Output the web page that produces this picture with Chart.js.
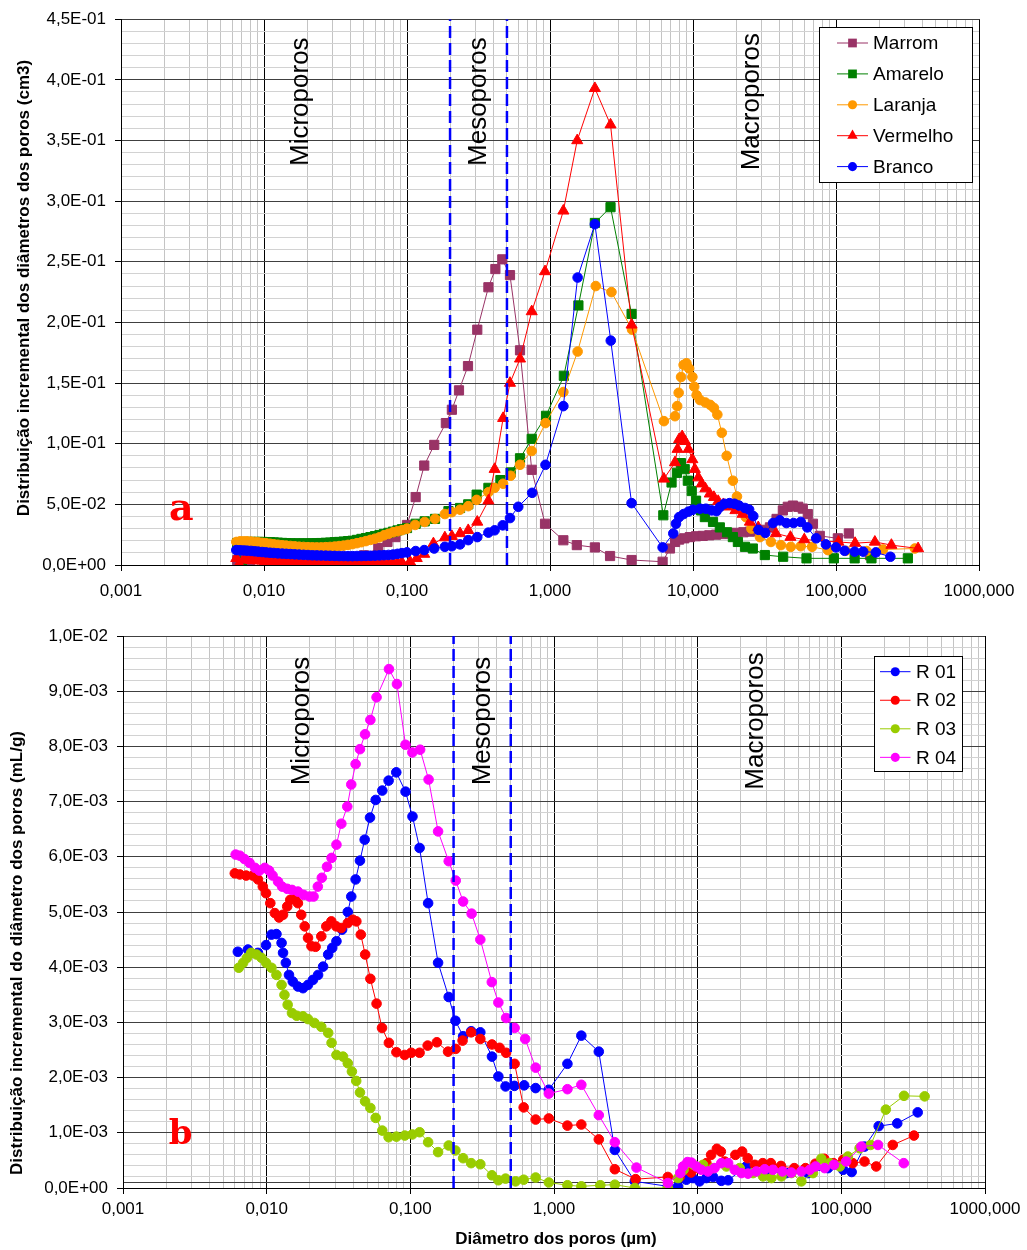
<!DOCTYPE html>
<html>
<head>
<meta charset="utf-8">
<script src="https://cdn.jsdelivr.net/npm/chart.js@4.4.1/dist/chart.umd.min.js"></script>
<style>
  body { margin: 0; background: #fff; }
  #wrap { width: 1027px; height: 1250px; }
  canvas { display: block; }
</style>
</head>
<body>
<div id="wrap">
  <canvas id="chartA" width="1027" height="612"></canvas>
  <canvas id="chartB" width="1027" height="638"></canvas>
</div>
<script>
// x axis decades (µm) and the meso-pore limits
const xDecades = [0.001, 0.01, 0.1, 1, 10, 100, 1000];
const poreLimits = [0.2, 0.5];

// chart a : [diameter µm, volume cm3]
const marrom = [[0.0065,0.004],[0.008,0.0038],[0.01,0.0035],[0.013,0.003],[0.017,0.003],[0.022,0.0032],[0.03,0.0038],[0.04,0.005],[0.05,0.008],[0.063,0.014],[0.073,0.019],[0.083,0.023],[0.1,0.033],[0.115,0.056],[0.132,0.082],[0.155,0.099],[0.187,0.117],[0.206,0.128],[0.231,0.144],[0.267,0.164],[0.31,0.194],[0.371,0.229],[0.415,0.244],[0.464,0.252],[0.525,0.239],[0.617,0.177],[0.745,0.0785],[0.923,0.034],[1.24,0.0204],[1.54,0.0164],[2.06,0.0145],[2.63,0.0074],[3.72,0.0041],[6.13,0.0027],[6.9,0.0136],[7.5,0.019],[8.0,0.021],[8.7,0.022],[9.5,0.023],[10.5,0.0237],[11.7,0.024],[13,0.0245],[14.5,0.025],[16.2,0.0255],[18,0.026],[20,0.0265],[22.5,0.027],[25,0.0275],[28,0.028],[31,0.029],[34.5,0.031],[38.4,0.038],[42.5,0.045],[46,0.048],[50,0.049],[54.5,0.048],[58.6,0.0465],[63.5,0.042],[69,0.034],[77,0.024],[103,0.022],[123,0.026],[173,0.008]];
const amarelo = [[0.007,0.001],[0.0065,0.018],[0.0068,0.0185],[0.0072,0.0188],[0.0076,0.019],[0.0081,0.019],[0.0086,0.019],[0.0091,0.019],[0.0097,0.019],[0.0103,0.0189],[0.011,0.0188],[0.0117,0.0186],[0.0125,0.0184],[0.0134,0.0182],[0.0143,0.018],[0.0153,0.0179],[0.0164,0.0178],[0.0176,0.0178],[0.0189,0.0178],[0.0203,0.0178],[0.0218,0.0179],[0.0234,0.018],[0.0251,0.0181],[0.027,0.0183],[0.029,0.0185],[0.0312,0.0188],[0.0335,0.019],[0.036,0.0193],[0.0387,0.0197],[0.0416,0.02],[0.0447,0.0207],[0.048,0.0215],[0.0516,0.0222],[0.0555,0.023],[0.0597,0.0238],[0.0642,0.0247],[0.069,0.0256],[0.0742,0.0265],[0.0798,0.0275],[0.0858,0.0285],[0.0922,0.0295],[0.1,0.0305],[0.115,0.034],[0.133,0.036],[0.157,0.038],[0.195,0.0444],[0.235,0.047],[0.268,0.05],[0.307,0.058],[0.371,0.0636],[0.45,0.07],[0.531,0.0763],[0.617,0.088],[0.745,0.104],[0.938,0.123],[1.25,0.156],[1.58,0.214],[2.06,0.282],[2.65,0.295],[3.72,0.207],[6.2,0.041],[7.08,0.068],[7.72,0.076],[8.23,0.084],[8.75,0.079],[9.2,0.0695],[9.8,0.061],[10.5,0.053],[11.4,0.045],[12.1,0.0395],[13.8,0.0355],[15.4,0.031],[17.3,0.027],[19.0,0.023],[20.6,0.019],[23.1,0.015],[26.2,0.0136],[31.8,0.0082],[42.7,0.0068],[62.2,0.0055],[96.6,0.0055],[135,0.0055],[177,0.0055],[318,0.0055]];
const laranja = [[0.0064,0.019],[0.0068,0.0195],[0.0072,0.0195],[0.0076,0.0195],[0.0081,0.0193],[0.0086,0.019],[0.0091,0.0187],[0.0097,0.0183],[0.0103,0.018],[0.011,0.0175],[0.0117,0.0171],[0.0125,0.0167],[0.0134,0.0163],[0.0143,0.016],[0.0153,0.0157],[0.0164,0.0154],[0.0176,0.0151],[0.0189,0.0149],[0.0203,0.0147],[0.0218,0.0146],[0.0234,0.0145],[0.0251,0.0145],[0.027,0.0147],[0.029,0.0149],[0.0312,0.0152],[0.0335,0.0156],[0.036,0.016],[0.0387,0.0166],[0.0416,0.0172],[0.0447,0.018],[0.048,0.0188],[0.0516,0.0197],[0.0555,0.0207],[0.0597,0.0217],[0.0642,0.0228],[0.069,0.0245],[0.0742,0.0257],[0.0798,0.027],[0.0858,0.0278],[0.0922,0.0287],[0.1,0.03],[0.114,0.033],[0.133,0.0355],[0.157,0.038],[0.184,0.042],[0.206,0.0436],[0.235,0.0456],[0.268,0.0485],[0.307,0.0537],[0.371,0.06],[0.41,0.0636],[0.47,0.067],[0.53,0.0736],[0.617,0.0826],[0.745,0.094],[0.93,0.117],[1.24,0.1426],[1.56,0.176],[2.09,0.23],[2.69,0.225],[3.75,0.194],[6.26,0.1186],[7.48,0.1227],[7.75,0.131],[7.94,0.142],[8.25,0.155],[8.6,0.165],[9.0,0.1663],[9.4,0.162],[9.9,0.155],[10.2,0.147],[10.6,0.14],[11.2,0.136],[12.2,0.134],[13.2,0.132],[14.0,0.1295],[14.8,0.124],[15.9,0.109],[17.2,0.09],[19.0,0.0695],[20.3,0.0565],[23.4,0.0395],[25.6,0.03],[29.4,0.023],[35.1,0.019],[41.2,0.0164],[48.3,0.015],[56.7,0.0155],[68,0.015],[87.7,0.0123],[117,0.0117],[164,0.0115],[213,0.0128],[356,0.0136]];
const vermelho = [[0.0064,0.0055],[0.0067,0.0008],[0.0072,0.0045],[0.0076,0.0042],[0.0081,0.004],[0.0086,0.0038],[0.0091,0.0036],[0.0097,0.0034],[0.0103,0.0032],[0.011,0.003],[0.0117,0.0028],[0.0125,0.0026],[0.0134,0.0024],[0.0143,0.0022],[0.0153,0.002],[0.0164,0.0018],[0.0176,0.0016],[0.0189,0.0015],[0.0203,0.0013],[0.0218,0.0012],[0.0234,0.0011],[0.0251,0.001],[0.027,0.001],[0.029,0.001],[0.0312,0.001],[0.0335,0.001],[0.036,0.001],[0.0387,0.0011],[0.0416,0.0011],[0.0447,0.0012],[0.048,0.0012],[0.0516,0.0013],[0.0555,0.0013],[0.0597,0.0014],[0.0642,0.0014],[0.069,0.0014],[0.0742,0.0015],[0.0798,0.0016],[0.0858,0.0018],[0.0922,0.0021],[0.105,0.0027],[0.117,0.0055],[0.132,0.009],[0.153,0.0177],[0.184,0.0226],[0.206,0.0237],[0.235,0.026],[0.268,0.0286],[0.31,0.0355],[0.371,0.053],[0.41,0.079],[0.47,0.121],[0.525,0.15],[0.617,0.17],[0.745,0.209],[0.923,0.242],[1.24,0.292],[1.55,0.35],[2.06,0.393],[2.65,0.363],[3.72,0.198],[6.26,0.071],[7.48,0.0845],[7.8,0.0955],[8.0,0.1036],[8.4,0.106],[8.8,0.102],[9.3,0.0955],[9.9,0.087],[10.3,0.079],[10.9,0.072],[11.5,0.067],[12.2,0.063],[13.1,0.0587],[14.0,0.0559],[15.0,0.0526],[16.3,0.05],[17.7,0.048],[19.8,0.045],[22.2,0.042],[25,0.0355],[28.6,0.031],[38,0.026],[48,0.023],[60,0.021],[104,0.019],[136,0.018],[187,0.019],[244,0.0164],[375,0.0136]];
const branco = [[0.0064,0.0123],[0.0068,0.0121],[0.0072,0.012],[0.0076,0.0118],[0.0081,0.0116],[0.0086,0.0113],[0.0091,0.011],[0.0097,0.0107],[0.0103,0.0104],[0.011,0.0101],[0.0117,0.0099],[0.0125,0.0096],[0.0134,0.0094],[0.0143,0.0092],[0.0153,0.009],[0.0164,0.0088],[0.0176,0.0086],[0.0189,0.0084],[0.0203,0.0082],[0.0218,0.008],[0.0234,0.0079],[0.0251,0.0078],[0.027,0.0077],[0.029,0.0076],[0.0312,0.0075],[0.0335,0.0074],[0.036,0.0074],[0.0387,0.0073],[0.0416,0.0073],[0.0447,0.0074],[0.048,0.0074],[0.0516,0.0075],[0.0555,0.0076],[0.0597,0.0077],[0.0642,0.0079],[0.069,0.0081],[0.0742,0.0083],[0.0798,0.0086],[0.0858,0.0092],[0.0922,0.0098],[0.1,0.0104],[0.115,0.0115],[0.132,0.0123],[0.155,0.0136],[0.184,0.015],[0.206,0.0155],[0.235,0.017],[0.268,0.0205],[0.31,0.023],[0.371,0.0267],[0.41,0.0286],[0.467,0.0327],[0.525,0.0387],[0.6,0.048],[0.75,0.0595],[0.93,0.0826],[1.24,0.131],[1.56,0.237],[2.06,0.281],[2.66,0.185],[3.72,0.051],[6.13,0.0145],[7.28,0.026],[7.6,0.034],[8.0,0.0395],[8.6,0.042],[9.3,0.044],[10,0.0456],[11.2,0.0464],[12.3,0.0464],[13.5,0.045],[14.6,0.0444],[15.4,0.0477],[16.6,0.0505],[18.0,0.051],[19.5,0.0505],[21.0,0.049],[23.1,0.047],[24.7,0.0456],[26.4,0.0403],[28.7,0.029],[32,0.0264],[36.3,0.0346],[40.5,0.0368],[45,0.0346],[50.5,0.0346],[56.7,0.0355],[63,0.031],[72.7,0.022],[85,0.017],[100,0.0145],[115,0.0117],[135,0.011],[155,0.011],[190,0.0104],[240,0.0068]];

// chart b : [diameter µm, volume mL/g]
const r01 = [[0.0063,0.00428],[0.0074,0.00432],[0.0087,0.00426],[0.0099,0.0044],[0.0108,0.00459],[0.0117,0.0046],[0.0127,0.00444],[0.013,0.00426],[0.0136,0.00408],[0.0143,0.00386],[0.0152,0.00374],[0.0165,0.00365],[0.0179,0.00362],[0.0194,0.00368],[0.021,0.00377],[0.0228,0.00386],[0.0247,0.00401],[0.0268,0.00423],[0.0286,0.00435],[0.0306,0.00447],[0.0335,0.00468],[0.0367,0.005],[0.0388,0.00528],[0.0416,0.00559],[0.0446,0.00593],[0.0481,0.00631],[0.0524,0.00671],[0.0574,0.00703],[0.0638,0.0072],[0.0706,0.00738],[0.0798,0.00753],[0.0926,0.00718],[0.1035,0.00673],[0.116,0.00616],[0.133,0.00516],[0.156,0.00408],[0.185,0.00346],[0.206,0.00303],[0.233,0.00275],[0.265,0.00284],[0.307,0.00282],[0.37,0.00238],[0.41,0.00202],[0.46,0.00184],[0.53,0.00185],[0.62,0.00186],[0.745,0.00181],[0.92,0.00178],[1.24,0.00225],[1.55,0.00276],[2.05,0.00247],[2.65,0.00069],[3.65,0.00012],[6.21,0.00003],[7.29,0.00003],[8.35,0.00015],[9.27,0.00018],[10.3,0.00012],[11.5,0.00018],[12.8,0.0002],[14.6,0.00013],[16.3,0.00014],[21.8,0.00039],[30.1,0.0003],[41.5,0.00027],[58.6,0.00027],[80.8,0.00036],[103,0.00033],[118,0.00029],[145,0.00075],[182,0.00112],[245,0.00117],[340,0.00137]];
const r02 = [[0.006,0.0057],[0.0065,0.00568],[0.0072,0.00566],[0.008,0.00566],[0.0087,0.00559],[0.0094,0.00546],[0.0099,0.00534],[0.0106,0.00516],[0.0114,0.00498],[0.0122,0.0049],[0.013,0.00495],[0.0139,0.0051],[0.0146,0.00522],[0.0157,0.00525],[0.0165,0.00516],[0.0174,0.00495],[0.0184,0.00474],[0.0194,0.00453],[0.0205,0.00438],[0.0219,0.00437],[0.024,0.00456],[0.026,0.00474],[0.0282,0.00483],[0.0305,0.00474],[0.033,0.00471],[0.0367,0.0048],[0.0398,0.00486],[0.0421,0.00483],[0.0452,0.00459],[0.0485,0.00423],[0.0527,0.00379],[0.0582,0.00334],[0.0635,0.0029],[0.0709,0.00263],[0.08,0.00246],[0.0914,0.00241],[0.1015,0.00245],[0.116,0.00245],[0.132,0.00258],[0.153,0.00264],[0.183,0.00247],[0.207,0.00252],[0.231,0.00267],[0.265,0.00282],[0.307,0.0027],[0.37,0.0026],[0.418,0.00254],[0.464,0.00245],[0.532,0.00225],[0.615,0.00146],[0.745,0.00124],[0.92,0.00126],[1.24,0.00113],[1.55,0.00115],[2.05,0.00088],[2.65,0.00034],[3.7,0.00016],[6.2,0.0002],[7.5,0.0002],[9.0,0.00028],[10.3,0.00035],[11.5,0.00045],[12.4,0.0006],[13.6,0.00071],[14.5,0.00066],[15.4,0.00048],[18.3,0.0006],[20.4,0.00066],[22.3,0.00054],[25,0.00042],[28.4,0.00045],[32.3,0.00045],[38,0.0004],[47,0.00036],[56.3,0.00036],[66,0.00044],[76,0.00053],[88,0.00045],[103,0.00051],[120,0.00045],[145,0.00048],[175,0.00039],[228,0.00078],[320,0.00095]];
const r03 = [[0.0064,0.00399],[0.00686,0.00408],[0.0073,0.00417],[0.0078,0.00426],[0.0085,0.00423],[0.0092,0.00417],[0.0099,0.00408],[0.0108,0.00399],[0.0117,0.00386],[0.0127,0.00368],[0.0133,0.0035],[0.014,0.00332],[0.015,0.00317],[0.0162,0.00312],[0.0179,0.00311],[0.0194,0.00306],[0.0215,0.00299],[0.024,0.00292],[0.0268,0.00281],[0.0283,0.00263],[0.0306,0.00241],[0.034,0.00238],[0.0367,0.00226],[0.0392,0.00211],[0.042,0.00194],[0.0446,0.00173],[0.0484,0.00157],[0.0527,0.00145],[0.0574,0.00127],[0.0638,0.00104],[0.0706,0.00092],[0.08,0.00093],[0.0914,0.00095],[0.1033,0.00097],[0.116,0.00101],[0.133,0.00083],[0.156,0.00065],[0.185,0.00077],[0.206,0.00068],[0.233,0.00054],[0.265,0.00045],[0.307,0.00043],[0.37,0.00023],[0.41,0.00014],[0.46,0.00017],[0.54,0.00012],[0.615,0.00015],[0.745,0.00019],[0.92,0.0001],[1.24,0.00005],[1.55,0.00003],[2.1,0.00005],[2.65,0.00006],[3.65,0],[6.2,0],[7.3,0.00018],[7.98,0.00033],[9.37,0.00042],[10.9,0.00042],[12.8,0.00036],[15.85,0.00039],[19.6,0.00036],[24.3,0.00027],[28.5,0.00021],[32.6,0.00018],[38.3,0.00021],[44.9,0.00027],[52.7,0.00012],[63.5,0.00027],[72.6,0.00053],[83,0.00045],[97.5,0.00039],[111,0.00057],[134,0.00072],[160,0.00078],[204,0.00142],[273,0.00167],[380,0.00166]];
const r04 = [[0.00608,0.00604],[0.0065,0.00602],[0.007,0.00596],[0.0076,0.00589],[0.0083,0.0058],[0.0089,0.00575],[0.0097,0.0058],[0.0104,0.00575],[0.011,0.00566],[0.012,0.00555],[0.0128,0.00546],[0.0139,0.00542],[0.015,0.0054],[0.0165,0.00537],[0.0181,0.00531],[0.0199,0.00528],[0.0212,0.00528],[0.0227,0.00546],[0.0242,0.00562],[0.0263,0.00582],[0.0283,0.00598],[0.0306,0.00622],[0.0331,0.0066],[0.0364,0.00691],[0.0388,0.00731],[0.0416,0.00768],[0.0446,0.00795],[0.0484,0.00822],[0.0527,0.00848],[0.0582,0.00889],[0.071,0.0094],[0.0807,0.00913],[0.0925,0.00803],[0.1033,0.00789],[0.117,0.00794],[0.134,0.0074],[0.156,0.00646],[0.185,0.00592],[0.207,0.00557],[0.233,0.00519],[0.267,0.00497],[0.307,0.0045],[0.369,0.00373],[0.41,0.00336],[0.464,0.00308],[0.532,0.0029],[0.63,0.0027],[0.745,0.00218],[0.92,0.00171],[1.24,0.00179],[1.55,0.00187],[2.05,0.00132],[2.65,0.00083],[3.75,0.00037],[6.2,0.00009],[7.57,0.00027],[7.91,0.00039],[8.49,0.00047],[9.04,0.00046],[9.8,0.00039],[10.6,0.00033],[11.8,0.0003],[13.1,0.00036],[14.6,0.00045],[16.3,0.00045],[18.1,0.00033],[20.2,0.00027],[22.4,0.00026],[25.6,0.0003],[29.3,0.00034],[33.4,0.00033],[38.9,0.0003],[44.9,0.00028],[52.7,0.0003],[60.3,0.00033],[66.2,0.00039],[76.5,0.00036],[88.9,0.00042],[108,0.00048],[138,0.00075],[180,0.00078],[272,0.00045]];

// tick values for the two y axes
const yTicksA = [];
for (let i = 0; i <= 45; i++) yTicksA.push(i / 100);
const yTicksB = [0, 0.0001];
for (let i = 1; i <= 50; i++) yTicksB.push(i * 2 / 10000);

const xTicks = [];
xDecades.forEach((d, i) => {
  const n = i === xDecades.length - 1 ? 1 : 9;
  for (let m = 1; m <= n; m++) xTicks.push(m * d);
});

const FONT = '"Liberation Sans", Arial, sans-serif';
Chart.defaults.font.family = FONT;
Chart.defaults.font.size = 17;
Chart.defaults.color = '#000';

const isDecade = v => Math.abs(Math.log10(v) - Math.round(Math.log10(v))) < 1e-6;
const isStep = (v, step) => Math.abs(v / step - Math.round(v / step)) < 1e-6;
const fmtX = v => v.toFixed(3).replace('.', ',');
const fmtY = v => {
  if (v === 0) return '0,0E+00';
  const e = Math.floor(Math.log10(v) + 1e-9);
  const m = v / Math.pow(10, e);
  return m.toFixed(1).replace('.', ',') + 'E' + (e < 0 ? '-' : '+') + String(Math.abs(e)).padStart(2, '0');
};

function drawMarker(ctx, style, x, y, r, color) {
  ctx.fillStyle = color;
  ctx.beginPath();
  if (style === 'rect') {
    const s = r * Math.SQRT1_2;
    ctx.rect(x - s, y - s, 2 * s, 2 * s);
  } else if (style === 'triangle') {
    ctx.moveTo(x, y - r);
    ctx.lineTo(x + r * Math.sin(Math.PI * 2 / 3), y - r * Math.cos(Math.PI * 2 / 3));
    ctx.lineTo(x + r * Math.sin(Math.PI * 4 / 3), y - r * Math.cos(Math.PI * 4 / 3));
    ctx.closePath();
  } else {
    ctx.arc(x, y, r, 0, Math.PI * 2);
  }
  ctx.fill();
}

function rotText(ctx, text, x, y, font, color) {
  ctx.save();
  ctx.translate(x, y);
  ctx.rotate(-Math.PI / 2);
  ctx.font = font;
  ctx.fillStyle = color;
  ctx.textAlign = 'center';
  ctx.textBaseline = 'middle';
  ctx.fillText(text, 0, 0);
  ctx.restore();
}

function makeChart(id, cfg) {
  const datasets = cfg.series.map((s, i) => ({
    label: s.label,
    data: s.data.map(p => ({x: p[0], y: p[1]})),
    borderColor: s.color,
    backgroundColor: s.color,
    pointBackgroundColor: s.color,
    pointBorderColor: s.color,
    pointStyle: s.style,
    pointRadius: s.radius,
    pointBorderWidth: 1,
    borderWidth: 1,
    tension: 0,
    order: cfg.series.length - i
  }));
  poreLimits.forEach(v => datasets.push({
    label: '',
    data: [{x: v, y: 0}, {x: v, y: cfg.yMax}],
    borderColor: '#0000FF',
    borderWidth: 2.5,
    borderDash: [12, 5],
    pointRadius: 0,
    order: 0
  }));

  const decor = {
    id: 'decor',
    afterDatasetsDraw(chart) {
      const ctx = chart.ctx;
      const xs = chart.scales.x, ys = chart.scales.y;
      cfg.zones.forEach(z => rotText(ctx, z.text, xs.getPixelForValue(z.x), ys.getPixelForValue(z.y), '26px ' + FONT, '#000'));

      const t = cfg.tag;
      ctx.save();
      ctx.font = 'bold ' + t.size + 'px "DejaVu Serif", serif';
      ctx.fillStyle = '#FF0000';
      ctx.textAlign = 'center';
      ctx.textBaseline = 'alphabetic';
      ctx.fillText(t.text, xs.getPixelForValue(t.x), ys.getPixelForValue(t.y));
      ctx.restore();

      rotText(ctx, cfg.yTitle.text, cfg.yTitle.x, cfg.yTitle.y, 'bold 17px ' + FONT, '#000');
      if (cfg.xTitle) {
        ctx.save();
        ctx.font = 'bold 17px ' + FONT;
        ctx.fillStyle = '#000';
        ctx.textAlign = 'center';
        ctx.textBaseline = 'middle';
        ctx.fillText(cfg.xTitle.text, cfg.xTitle.x, cfg.xTitle.y);
        ctx.restore();
      }

      const lg = cfg.legend;
      ctx.save();
      ctx.fillStyle = '#fff';
      ctx.fillRect(lg.x, lg.y, lg.w, lg.h);
      ctx.strokeStyle = '#000';
      ctx.lineWidth = 1;
      ctx.strokeRect(lg.x + 0.5, lg.y + 0.5, lg.w, lg.h);
      cfg.series.forEach((s, i) => {
        const cy = lg.y + lg.first + i * lg.step;
        ctx.strokeStyle = s.color;
        ctx.beginPath();
        ctx.moveTo(lg.x + lg.lineFrom, cy);
        ctx.lineTo(lg.x + lg.lineTo, cy);
        ctx.stroke();
        drawMarker(ctx, s.style, lg.x + (lg.lineFrom + lg.lineTo) / 2, cy, s.radius * 0.95, s.color);
        ctx.fillStyle = '#000';
        ctx.font = '19px ' + FONT;
        ctx.textAlign = 'left';
        ctx.textBaseline = 'middle';
        ctx.fillText(s.label, lg.x + lg.textX, cy + 1);
      });
      ctx.restore();
    }
  };

  return new Chart(document.getElementById(id), {
    type: 'line',
    data: {datasets: datasets},
    plugins: [decor],
    options: {
      responsive: false,
      animation: false,
      events: [],
      layout: {padding: cfg.padding},
      plugins: {legend: {display: false}, tooltip: {enabled: false}},
      scales: {
        x: {
          type: 'logarithmic',
          min: 0.001,
          max: 1000,
          afterBuildTicks: s => { s.ticks = xTicks.map(v => ({value: v})); },
          afterFit: s => { s.height = cfg.xHeight; },
          ticks: {
            autoSkip: false, maxRotation: 0, minRotation: 0,
            padding: cfg.xPad,
            callback: v => isDecade(v) ? fmtX(v) : ''
          },
          grid: {
            color: c => c.tick && isDecade(c.tick.value) ? '#000' : '#c4c4c4',
            tickColor: c => c.tick && isDecade(c.tick.value) ? '#000' : 'rgba(0,0,0,0)',
            tickLength: 6,
            lineWidth: 1
          },
          border: {color: '#000', width: 1}
        },
        y: {
          min: 0,
          max: cfg.yMax,
          afterBuildTicks: s => { s.ticks = cfg.yTicks.map(v => ({value: v})); },
          afterFit: s => { s.width = cfg.yWidth; },
          ticks: {
            autoSkip: false,
            padding: 9,
            callback: v => isStep(v, cfg.yStep) ? fmtY(v) : ''
          },
          grid: {
            color: c => c.tick && (isStep(c.tick.value, cfg.yStep) || cfg.yDark.includes(c.tick.value)) ? '#404040' : '#d2d2d2',
            tickColor: c => c.tick && isStep(c.tick.value, cfg.yStep) ? '#000' : 'rgba(0,0,0,0)',
            tickLength: 6,
            lineWidth: 1
          },
          border: {color: '#000', width: 1}
        }
      }
    }
  });
}

makeChart('chartA', {
  series: [
    {label: 'Marrom', color: '#993366', style: 'rect', radius: 6.5, data: marrom},
    {label: 'Amarelo', color: '#008000', style: 'rect', radius: 6.5, data: amarelo},
    {label: 'Laranja', color: '#FF9900', style: 'circle', radius: 4.8, data: laranja},
    {label: 'Vermelho', color: '#FF0000', style: 'triangle', radius: 6.4, data: vermelho},
    {label: 'Branco', color: '#0000FF', style: 'circle', radius: 4.8, data: branco}
  ],
  yMax: 0.45, yStep: 0.05, yTicks: yTicksA, yDark: [],
  padding: {left: 0, right: 48, top: 15, bottom: 0},
  yWidth: 121, xHeight: 47, xPad: 10,
  zones: [
    {text: 'Microporos', x: 0.018, y: 0.382},
    {text: 'Mesoporos', x: 0.319, y: 0.382},
    {text: 'Macroporos', x: 25.7, y: 0.382}
  ],
  tag: {text: 'a', x: 0.00264, y: 0.0368, size: 38},
  yTitle: {text: 'Distribuição incremental dos diâmetros dos poros (cm3)', x: 24, y: 288},
  legend: {x: 819, y: 27, w: 153, h: 155, first: 16, step: 30.9, lineFrom: 18, lineTo: 49, textX: 54}
});

makeChart('chartB', {
  series: [
    {label: 'R 01', color: '#0000FF', style: 'circle', radius: 4.8, data: r01},
    {label: 'R 02', color: '#FF0000', style: 'circle', radius: 4.8, data: r02},
    {label: 'R 03', color: '#99CC00', style: 'circle', radius: 4.8, data: r03},
    {label: 'R 04', color: '#FF00FF', style: 'circle', radius: 4.8, data: r04}
  ],
  yMax: 0.01, yStep: 0.001, yTicks: yTicksB, yDark: [0.0001],
  padding: {left: 0, right: 42, top: 24, bottom: 0},
  yWidth: 123, xHeight: 62, xPad: 5,
  zones: [
    {text: 'Microporos', x: 0.0175, y: 0.00846},
    {text: 'Mesoporos', x: 0.319, y: 0.00846},
    {text: 'Macroporos', x: 25.6, y: 0.00846}
  ],
  tag: {text: 'b', x: 0.00252, y: 0.0008, size: 34},
  yTitle: {text: 'Distribuição incremental do diâmetro dos poros (mL/g)', x: 17.5, y: 341},
  xTitle: {text: 'Diâmetro dos poros (µm)', x: 556, y: 627},
  legend: {x: 874, y: 44, w: 88, h: 115, first: 15.7, step: 28.55, lineFrom: 6, lineTo: 36.5, textX: 42}
});
</script>
</body>
</html>
